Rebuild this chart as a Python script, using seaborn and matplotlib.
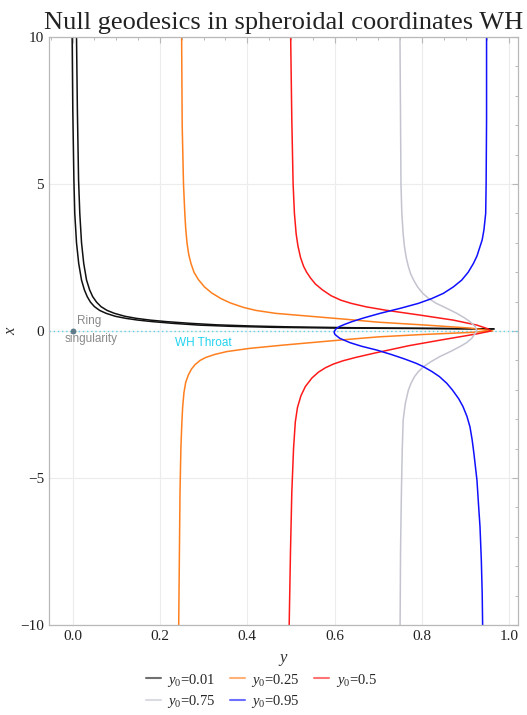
import matplotlib
matplotlib.use("Agg")
import matplotlib.pyplot as plt
from matplotlib.lines import Line2D
from matplotlib.ticker import MultipleLocator, FormatStrFormatter
import numpy as np
import pandas as pd
import seaborn as sns

# ---- geodesic traces (y, x) for each initial y0 ----
labels = ["0.01", "0.25", "0.5", "0.75", "0.95"]
colors = ["#111111", "#ff7f1e", "#ff1a1a", "#c4c4d0", "#1010ff"]

# y0 = 0.01 : two nearby traces
x_k1 = [10, 7.5, 5.14, 4.0, 3.0, 2.3, 1.73, 1.4, 1.17, 0.98, 0.83, 0.70, 0.60, 0.50, 0.43, 0.37, 0.32, 0.26, 0.20, 0.16, 0.125, 0.10, 0.085, 0.07]
y_k1 = [-0.001, 0.0005, 0.003, 0.005, 0.009, 0.014, 0.0205, 0.027, 0.0335, 0.041, 0.050, 0.062, 0.077, 0.098, 0.122, 0.150, 0.182, 0.23, 0.29, 0.36, 0.46, 0.60, 0.80, 0.965]
x_k2 = [10, 7.5, 5.14, 4.0, 3.0, 2.3, 1.73, 1.4, 1.17, 0.98, 0.83, 0.70, 0.60, 0.50, 0.43, 0.37, 0.32, 0.26, 0.21, 0.17, 0.14, 0.11, 0.09, 0.07]
y_k2 = [0.009, 0.011, 0.0137, 0.0165, 0.0205, 0.0255, 0.032, 0.039, 0.046, 0.055, 0.065, 0.079, 0.096, 0.120, 0.146, 0.178, 0.214, 0.27, 0.33, 0.41, 0.50, 0.65, 0.82, 0.965]

# y0 = 0.25
x_or = [10, 7.0, 5.0, 4.0, 3.5, 3.0, 2.6, 2.3, 2.0, 1.75, 1.5, 1.3, 1.1, 0.95, 0.8, 0.7, 0.6, 0.5, 0.4, 0.3, 0.2, 0.1, 0,
        -0.05, -0.12, -0.2, -0.28, -0.36, -0.48, -0.59, -0.70, -0.80, -0.90, -1.0, -1.15, -1.3, -1.5, -1.75, -2.1, -2.6, -3.2, -4.0, -5.5, -10]
y_or = [0.2497, 0.251, 0.254, 0.257, 0.259, 0.262, 0.266, 0.271, 0.278, 0.288, 0.302, 0.318, 0.340, 0.362, 0.392, 0.420, 0.465, 0.545, 0.625, 0.700, 0.810, 0.910, 0.962,
        0.91, 0.80, 0.70, 0.635, 0.573, 0.482, 0.406, 0.353, 0.325, 0.305, 0.292, 0.280, 0.272, 0.265, 0.259, 0.255, 0.252, 0.250, 0.248, 0.246, 0.243]

# y0 = 0.5
x_rd = [10, 7.2, 5.0, 4.0, 3.3, 2.9, 2.5, 2.2, 2.0, 1.8, 1.6, 1.4, 1.2, 1.05, 0.94, 0.82, 0.71, 0.54, 0.37, 0.20, 0.08, 0,
        -0.1, -0.31, -0.5, -0.76, -0.9, -1.01, -1.12, -1.25, -1.4, -1.6, -1.89, -2.2, -2.6, -3.1, -4.0, -5.5, -7.5, -10]
y_rd = [0.4994, 0.502, 0.505, 0.508, 0.512, 0.516, 0.522, 0.529, 0.536, 0.545, 0.556, 0.572, 0.592, 0.614, 0.638, 0.673, 0.716, 0.796, 0.872, 0.926, 0.950, 0.958,
        0.925, 0.842, 0.77, 0.689, 0.648, 0.620, 0.598, 0.579, 0.563, 0.548, 0.533, 0.523, 0.515, 0.510, 0.506, 0.502, 0.499, 0.496]

# y0 = 0.75
x_gy = [10, 7.2, 5.0, 4.0, 3.3, 2.87, 2.5, 2.19, 1.95, 1.73, 1.5, 1.28, 1.1, 0.94, 0.77, 0.60, 0.45, 0.32, 0.15, 0,
        -0.08, -0.25, -0.4, -0.53, -0.7, -0.87, -1.05, -1.21, -1.38, -1.55, -1.78, -2.01, -2.46, -3.03, -4.0, -5.5, -7.5, -10]
y_gy = [0.7497, 0.751, 0.752, 0.754, 0.757, 0.760, 0.764, 0.769, 0.774, 0.781, 0.790, 0.802, 0.816, 0.833, 0.857, 0.880, 0.897, 0.910, 0.922, 0.926,
        0.922, 0.914, 0.902, 0.887, 0.865, 0.841, 0.820, 0.804, 0.792, 0.783, 0.775, 0.769, 0.762, 0.757, 0.755, 0.753, 0.751, 0.750]

# y0 = 0.95
x_bl = [10, 7.2, 5.0, 4.0, 3.44, 3.1, 2.87, 2.55, 2.30, 2.0, 1.73, 1.5, 1.28, 1.1, 0.94, 0.77, 0.60, 0.45, 0.32, 0.22, 0.15, 0.07, 0.0, -0.05, -0.12, -0.18, -0.25,
        -0.4, -0.52, -0.65, -0.8, -0.95, -1.1, -1.21, -1.38, -1.55, -1.78, -2.01, -2.3, -2.57, -2.9, -3.26, -3.7, -4.16, -5.07, -6.0, -6.66, -7.79, -8.92, -10]
y_bl = [0.948, 0.948, 0.947, 0.946, 0.942, 0.938, 0.933, 0.926, 0.918, 0.906, 0.891, 0.872, 0.849, 0.822, 0.792, 0.750, 0.704, 0.668, 0.640, 0.622, 0.611, 0.603, 0.600, 0.599, 0.601, 0.606, 0.612,
        0.636, 0.662, 0.697, 0.730, 0.760, 0.787, 0.803, 0.823, 0.840, 0.857, 0.870, 0.884, 0.894, 0.903, 0.910, 0.915, 0.919, 0.926, 0.930, 0.933, 0.936, 0.938, 0.939]

traces = [("0.01", "a", x_k1, y_k1), ("0.01", "b", x_k2, y_k2),
          ("0.25", "c", x_or, y_or), ("0.5", "d", x_rd, y_rd),
          ("0.75", "e", x_gy, y_gy), ("0.95", "f", x_bl, y_bl)]

frames = []
for lab, branch, xs, ys in traces:
    frames.append(pd.DataFrame({"y": ys, "x": xs, "y0": lab, "branch": branch}))
df = pd.concat(frames, ignore_index=True)

sns.set_theme(style="white")
plt.rcParams["font.family"] = ["Liberation Serif", "DejaVu Serif"]
plt.rcParams["mathtext.fontset"] = "custom"
plt.rcParams["mathtext.rm"] = "Liberation Serif"
plt.rcParams["mathtext.it"] = "Liberation Serif:italic"
plt.rcParams["axes.unicode_minus"] = True

fig = plt.figure(figsize=(5.27, 7.15), dpi=100)
ax = fig.add_axes([49 / 527, 1 - 625 / 715, (518 - 49) / 527, (625 - 37) / 715])

palette = dict(zip(labels, colors))
sns.lineplot(data=df, x="y", y="x", hue="y0", units="branch", estimator=None,
             sort=False, palette=palette, linewidth=1.1, legend=False, ax=ax)

# throat line and ring singularity
ax.axhline(0, color="#5fd3e8", linestyle=(0, (1, 2)), linewidth=1.0, zorder=1)
ax.scatter([0], [0], s=18, color="#5f7c8a", zorder=5, linewidths=0)
ax.text(0.011, 0.33, "Ring", family="Liberation Sans", fontsize=8.5, color="#8a8a8a",
        ha="left", va="center")
ax.text(0.042, -0.28, "singularity", family="Liberation Sans", fontsize=8.5, color="#8a8a8a",
        ha="center", va="center")
ax.text(0.30, -0.42, "WH Throat", family="Liberation Sans", fontsize=8.5, color="#22d3f0",
        ha="center", va="center")

ax.set_xlim(-0.054, 1.02)
ax.set_ylim(-10, 10)
ax.xaxis.set_major_locator(MultipleLocator(0.2))
ax.xaxis.set_minor_locator(MultipleLocator(0.05))
ax.yaxis.set_major_locator(MultipleLocator(5))
ax.yaxis.set_minor_locator(MultipleLocator(1))
ax.xaxis.set_major_formatter(FormatStrFormatter("%.1f"))
ax.grid(True, which="major", color="#ececec", linewidth=0.8)
ax.set_axisbelow(True)
for s in ax.spines.values():
    s.set_color("#b8b8b8")
    s.set_linewidth(0.9)
ax.tick_params(which="both", direction="in", top=True, right=True, color="#b8b8b8",
               labelsize=11, labelcolor="#222222")
ax.tick_params(which="major", length=4.5, width=0.8)
ax.tick_params(which="minor", length=2.5, width=0.7)

ax.set_title("Null geodesics in spheroidal coordinates WH", fontsize=19, color="#222222", pad=6)
ax.set_xlabel("y", fontsize=12, style="italic", color="#333333", labelpad=5)
ax.set_ylabel("x", fontsize=12, style="italic", color="#333333", labelpad=0.5)

# legend: two rows, filled row-wise
order = ["0.01", "0.75", "0.25", "0.95", "0.5"]
handles = [Line2D([0], [0], color=palette[l], lw=1.5, alpha=0.6) for l in order]
texts = [r"$y_0$=" + l for l in order]
fig.legend(handles, texts, loc="center", bbox_to_anchor=(0.496, 0.034), ncol=3, frameon=False,
           fontsize=10.5, handlelength=1.0, handletextpad=0.45, columnspacing=1.0, labelspacing=0.3)

fig.savefig("out.png", dpi=100)
